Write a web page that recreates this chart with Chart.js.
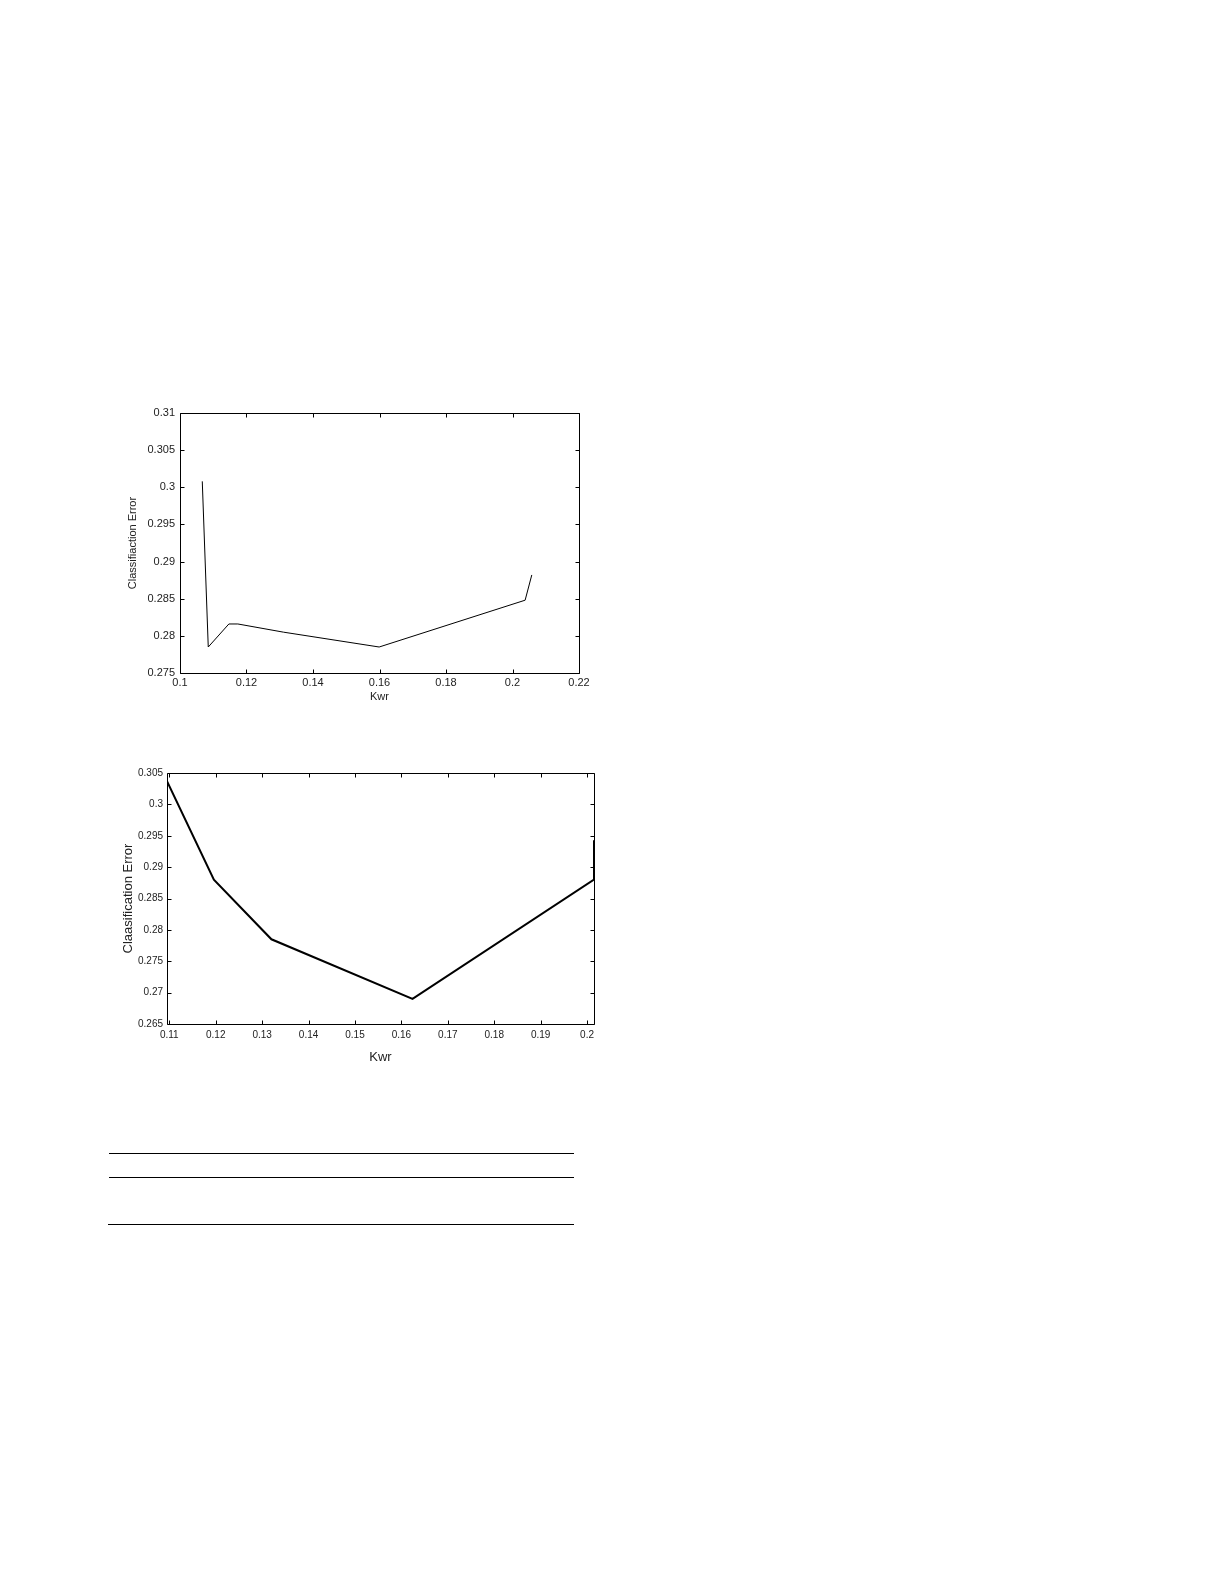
<!DOCTYPE html>
<html>
<head>
<meta charset="utf-8">
<script src="https://cdn.jsdelivr.net/npm/chart.js@4"></script>
<style>
  html, body { margin: 0; padding: 0; background: #fff; }
  body { width: 1225px; height: 1585px; position: relative; overflow: hidden; }
  .box { position: absolute; }
  .rule { position: absolute; height: 1px; background: #000; }
</style>
</head>
<body>
<div class="box" style="left:100px;top:400px;width:500px;height:310px;"><canvas id="c1"></canvas></div>
<div class="box" style="left:95px;top:760px;width:515px;height:305px;"><canvas id="c2"></canvas></div>
<div class="rule" style="left:109px;top:1153px;width:465px;"></div>
<div class="rule" style="left:109px;top:1177px;width:465px;"></div>
<div class="rule" style="left:108px;top:1224px;width:466px;"></div>
<script>
// ---- Chart 1 data ----
const kw1  = [0.1067, 0.1085, 0.1147, 0.1174, 0.1311, 0.1599, 0.2038, 0.2058];
const err1 = [0.3008, 0.2785, 0.2816, 0.2816, 0.2805, 0.2785, 0.2848, 0.2882];
const xTicks1 = [0.1, 0.12, 0.14, 0.16, 0.18, 0.2, 0.22];
const xLabels1 = ['0.1', '0.12', '0.14', '0.16', '0.18', '0.2', '0.22'];
const yTicks1 = [0.275, 0.28, 0.285, 0.29, 0.295, 0.3, 0.305, 0.31];
const yLabels1 = ['0.275', '0.28', '0.285', '0.29', '0.295', '0.3', '0.305', '0.31'];

// ---- Chart 2 data ----
const kw2  = [0.1095, 0.1196, 0.1320, 0.1624, 0.2015, 0.2015];
const err2 = [0.3037, 0.2880, 0.2785, 0.2690, 0.2880, 0.2943];
const xTicks2 = [0.11, 0.12, 0.13, 0.14, 0.15, 0.16, 0.17, 0.18, 0.19, 0.2];
const xLabels2 = ['0.11', '0.12', '0.13', '0.14', '0.15', '0.16', '0.17', '0.18', '0.19', '0.2'];
const yTicks2 = [0.265, 0.27, 0.275, 0.28, 0.285, 0.29, 0.295, 0.3, 0.305];
const yLabels2 = ['0.265', '0.27', '0.275', '0.28', '0.285', '0.29', '0.295', '0.3', '0.305'];

const FONT = "'Liberation Sans', Arial, sans-serif";

const boxPlugin = {
  id: 'matlabBox',
  afterDraw(chart) {
    const ctx = chart.ctx;
    const a = chart.chartArea;
    const L = Math.round(a.left) + 0.5, R = Math.round(a.right) + 0.5;
    const T = Math.round(a.top) + 0.5, B = Math.round(a.bottom) + 0.5;
    const tl = 4;
    ctx.save();
    ctx.strokeStyle = '#000';
    ctx.lineWidth = 1;
    ctx.beginPath();
    ctx.rect(L, T, R - L, B - T);
    ctx.stroke();
    const xs = chart.scales.x, ys = chart.scales.y;
    ctx.beginPath();
    xs.ticks.forEach(t => {
      const p = Math.round(xs.getPixelForValue(t.value)) + 0.5;
      ctx.moveTo(p, B); ctx.lineTo(p, B - tl);
      ctx.moveTo(p, T); ctx.lineTo(p, T + tl);
    });
    ys.ticks.forEach(t => {
      const p = Math.round(ys.getPixelForValue(t.value)) + 0.5;
      ctx.moveTo(L, p); ctx.lineTo(L + tl, p);
      ctx.moveTo(R, p); ctx.lineTo(R - tl, p);
    });
    ctx.stroke();
    ctx.restore();
  }
};

function makeChart(id, cfg) {
  const pts = cfg.xs.map((x, i) => ({ x: x, y: cfg.ys[i] }));
  return new Chart(document.getElementById(id), {
    type: 'line',
    data: { datasets: [{
      data: pts,
      borderColor: '#000',
      borderWidth: cfg.lineWidth,
      pointRadius: 0,
      tension: 0,
      fill: false
    }]},
    options: {
      responsive: true,
      maintainAspectRatio: false,
      animation: false,
      events: [],
      layout: { padding: cfg.pad },
      plugins: { legend: { display: false }, tooltip: { enabled: false } },
      scales: {
        x: {
          type: 'linear',
          min: cfg.xmin, max: cfg.xmax,
          border: { display: false },
          grid: { display: false, drawTicks: false },
          afterBuildTicks: s => { s.ticks = cfg.xTicks.map(v => ({ value: v })); },
          afterFit: s => { s.height = cfg.xh; },
          ticks: {
            autoSkip: false, maxRotation: 0, padding: cfg.xpad,
            color: '#222', font: { family: FONT, size: cfg.tickSize },
            callback: (v, i) => cfg.xLabels[i]
          },
          title: { display: true, text: 'Kwr', color: '#222', padding: 0,
                   font: { family: FONT, size: cfg.titleSize } }
        },
        y: {
          type: 'linear',
          min: cfg.ymin, max: cfg.ymax,
          border: { display: false },
          grid: { display: false, drawTicks: false },
          afterBuildTicks: s => { s.ticks = cfg.yTicks.map(v => ({ value: v })); },
          afterFit: s => { s.width = cfg.yw; },
          ticks: {
            autoSkip: false, padding: cfg.ypad,
            color: '#222', font: { family: FONT, size: cfg.tickSize },
            callback: (v, i) => cfg.yLabels[i]
          },
          title: { display: true, text: cfg.ytitle, color: '#222', padding: 0,
                   font: { family: FONT, size: cfg.titleSize } }
        }
      }
    },
    plugins: [boxPlugin]
  });
}

makeChart('c1', {
  xs: kw1, ys: err1, lineWidth: 1,
  xmin: 0.1, xmax: 0.22, ymin: 0.275, ymax: 0.31,
  xTicks: xTicks1, xLabels: xLabels1, yTicks: yTicks1, yLabels: yLabels1,
  pad: { left: 26, top: 13, right: 21, bottom: 6 },
  xh: 31, yw: 54, xpad: 3, ypad: 5,
  tickSize: 11, titleSize: 11,
  ytitle: 'Classifiaction Error'
});

makeChart('c2', {
  xs: kw2, ys: err2, lineWidth: 2,
  xmin: 0.1095, xmax: 0.2015, ymin: 0.265, ymax: 0.305,
  xTicks: xTicks2, xLabels: xLabels2, yTicks: yTicks2, yLabels: yLabels2,
  pad: { left: 26, top: 13, right: 16, bottom: 0 },
  xh: 41, yw: 46, xpad: 5, ypad: 4,
  tickSize: 10, titleSize: 13,
  ytitle: 'Claasification Error'
});
</script>
</body>
</html>
